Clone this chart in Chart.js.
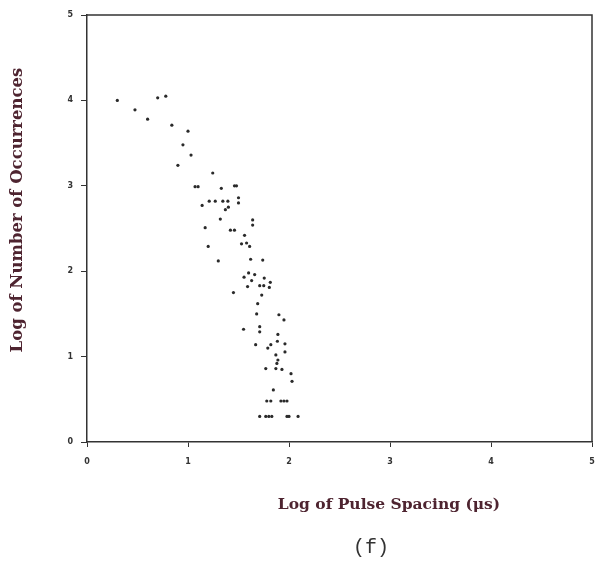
<!DOCTYPE html>
<html>
<head>
<meta charset="utf-8">
<script src="https://cdn.jsdelivr.net/npm/chart.js@4.4.1/dist/chart.umd.min.js"></script>
<style>
  html, body { margin: 0; padding: 0; background: #fff; overflow: hidden; }
  canvas { display: block; }
</style>
</head>
<body>
<canvas id="chart" width="596" height="568"></canvas>
<script>
// log10 of pulse spacing (us) and log10 of number of occurrences
const pulseSpacingLog = [
  0.30, 0.475, 0.60, 0.70, 0.78, 0.84, 1.00, 0.95, 1.03, 0.90,
  1.07, 1.10, 1.245, 1.33, 1.46, 1.48, 1.14, 1.21, 1.27, 1.345,
  1.395, 1.50, 1.50, 1.37, 1.40, 1.32, 1.64, 1.64, 1.17, 1.42,
  1.46, 1.56, 1.20, 1.53, 1.58, 1.61,
  1.30, 1.62, 1.74, 1.60, 1.555, 1.66, 1.63, 1.755, 1.815, 1.59,
  1.71, 1.75, 1.805, 1.45, 1.73, 1.69, 1.68, 1.90, 1.95, 1.55,
  1.71, 1.71, 1.89,
  1.67, 1.79, 1.82, 1.885, 1.96, 1.96, 1.87, 1.89, 1.88, 1.77,
  1.87, 1.93, 2.02, 2.03, 1.845,
  1.78, 1.82, 1.92, 1.95, 1.98,
  1.71, 1.77, 1.80, 1.83, 1.98, 2.00, 2.09
];
const occurrencesLog = [
  4.00, 3.89, 3.78, 4.03, 4.05, 3.71, 3.64, 3.48, 3.36, 3.24,
  2.99, 2.99, 3.15, 2.97, 3.00, 3.00, 2.77, 2.82, 2.82, 2.82,
  2.82, 2.86, 2.80, 2.72, 2.75, 2.61, 2.54, 2.60, 2.51, 2.48,
  2.48, 2.42, 2.29, 2.32, 2.33, 2.29,
  2.12, 2.14, 2.13, 1.98, 1.93, 1.96, 1.89, 1.92, 1.87, 1.82,
  1.83, 1.83, 1.81, 1.75, 1.72, 1.62, 1.50, 1.49, 1.43, 1.32,
  1.29, 1.35, 1.26,
  1.14, 1.10, 1.14, 1.18, 1.15, 1.055, 1.02, 0.96, 0.92, 0.86,
  0.86, 0.85, 0.80, 0.71, 0.61,
  0.48, 0.48, 0.48, 0.48, 0.48,
  0.30, 0.30, 0.30, 0.30, 0.30, 0.30, 0.30
];
const xTicks = [0, 1, 2, 3, 4, 5];
const yTicks = [0, 1, 2, 3, 4, 5];
const xTitle = 'Log of Pulse Spacing (\u03bcs)';
const yTitle = 'Log of Number of Occurrences';
const panelLabel = '(f)';

const points = pulseSpacingLog.map((x, i) => ({ x: x, y: occurrencesLog[i] }));

const titleColor = '#4e2430';

// frame round the plot plus the free-placed titles
const framePlugin = {
  id: 'frame',
  afterDraw(chart) {
    const { ctx, chartArea: a } = chart;
    ctx.save();
    ctx.strokeStyle = '#333';
    ctx.lineWidth = 1.5;
    ctx.beginPath();
    ctx.moveTo(a.left, a.top);
    ctx.lineTo(a.right, a.top);
    ctx.lineTo(a.right, a.bottom);
    ctx.stroke();

    ctx.fillStyle = titleColor;
    ctx.textAlign = 'center';
    ctx.textBaseline = 'middle';
    ctx.font = 'bold 15.5px "DejaVu Serif"';
    ctx.fillText(xTitle, 389, 505);

    ctx.save();
    ctx.translate(18, 210);
    ctx.rotate(-Math.PI / 2);
    ctx.font = 'bold 16.5px "DejaVu Serif"';
    ctx.fillText(yTitle, 0, 0);
    ctx.restore();

    ctx.fillStyle = '#333';
    ctx.font = '20px "Liberation Mono"';
    ctx.fillText(panelLabel, 371, 548);
    ctx.restore();
  }
};

new Chart(document.getElementById('chart'), {
  type: 'scatter',
  data: {
    datasets: [{
      data: points,
      backgroundColor: '#2a2a2a',
      borderColor: '#2a2a2a',
      pointRadius: 1.6,
      borderWidth: 0
    }]
  },
  options: {
    responsive: false,
    animation: false,
    layout: { padding: { top: 15, right: 4, left: 0, bottom: 0 } },
    plugins: { legend: { display: false }, tooltip: { enabled: false } },
    scales: {
      x: {
        type: 'linear',
        min: 0, max: 5,
        afterBuildTicks: (s) => { s.ticks = xTicks.map(v => ({ value: v })); },
        afterFit: (s) => { s.height = 568 - 442; s.paddingLeft = 0; s.paddingRight = 0; },
        border: { display: true, color: '#333', width: 1.5 },
        grid: { drawOnChartArea: false, drawTicks: true, tickLength: 5, color: '#333', lineWidth: 1 },
        ticks: { padding: 10, color: '#333', font: { family: 'DejaVu Sans', size: 8, weight: 'bold' }, maxRotation: 0 }
      },
      y: {
        type: 'linear',
        min: 0, max: 5,
        afterBuildTicks: (s) => { s.ticks = yTicks.map(v => ({ value: v })); },
        afterFit: (s) => { s.width = 87; s.paddingTop = 0; s.paddingBottom = 0; },
        border: { display: true, color: '#333', width: 1.5 },
        grid: { drawOnChartArea: false, drawTicks: true, tickLength: 6, color: '#333', lineWidth: 1 },
        ticks: { padding: 8, color: '#333', font: { family: 'DejaVu Sans', size: 8, weight: 'bold' } }
      }
    }
  },
  plugins: [framePlugin]
});
</script>
</body>
</html>
